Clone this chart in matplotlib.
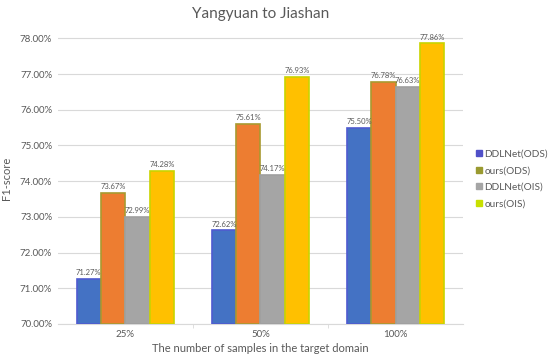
import matplotlib
matplotlib.use("Agg")
import matplotlib.pyplot as plt
from matplotlib.patches import Patch
import numpy as np

plt.rcParams['font.family'] = ['Lato', 'DejaVu Sans']

categories = ["25%", "50%", "100%"]
series_names = ["DDLNet(ODS)", "ours(ODS)", "DDLNet(OIS)", "ours(OIS)"]
ddlnet_ods = [71.27, 72.62, 75.50]
ours_ods = [73.67, 75.61, 76.78]
ddlnet_ois = [72.99, 74.17, 76.63]
ours_ois = [74.28, 76.93, 77.86]
yticks = [70, 71, 72, 73, 74, 75, 76, 77, 78]

series = [ddlnet_ods, ours_ods, ddlnet_ois, ours_ois]
faces = ["#4472C4", "#ED7D31", "#A5A5A5", "#FFC000"]
edges = ["#4f5bd0", "#a89a30", "#a0a0a0", "#c8d400"]
legend_cols = ["#5050c8", "#9a9a30", "#a5a5a5", "#c8e000"]

fig = plt.figure(figsize=(5.5, 3.61), dpi=100)
ax = fig.add_axes([0.105, 0.1025, 0.737, 0.806])

x = np.arange(len(categories))
w = 0.18
txt = "#595959"
for i, (vals, fc, ec) in enumerate(zip(series, faces, edges)):
    pos = x + (i - 1.5) * w
    ax.bar(pos, np.array(vals) - 70, width=w, bottom=70, color=fc,
           edgecolor=ec, linewidth=1.2, zorder=3)
    for p, v in zip(pos, vals):
        ax.text(p, v + 0.08, f"{v:.2f}%", ha="center", va="bottom",
                fontsize=5.5, color=txt, zorder=4)

ax.set_ylim(70, 78.15)
ax.set_xlim(-0.5, 2.5)
ax.set_yticks(yticks)
ax.set_yticklabels([f"{t:.2f}%" for t in yticks], fontsize=7, color=txt)
ax.set_xticks(x)
ax.set_xticklabels(categories, fontsize=7, color=txt)
ax.tick_params(axis='both', length=0, pad=4)
ax.set_xticks([0.5, 1.5], minor=True)
ax.tick_params(axis='x', which='minor', length=3, color="#d9d9d9")
ax.grid(axis='y', color="#d9d9d9", linewidth=0.8, zorder=0)
for s in ["top", "right", "left"]:
    ax.spines[s].set_visible(False)
ax.spines["bottom"].set_color("#d9d9d9")

ax.set_title("Yangyuan to Jiashan", fontsize=11, color=txt, pad=11)
ax.set_xlabel("The number of samples in the target domain", fontsize=8, color=txt, labelpad=3)
ax.set_ylabel("F1-score", fontsize=8, color=txt, labelpad=6)

handles = [Patch(facecolor=c, edgecolor=c) for c in legend_cols]
fig.legend(handles, series_names, loc="upper left", bbox_to_anchor=(0.866, 0.585),
           frameon=False, fontsize=7.2, labelcolor=txt, handlelength=0.55,
           handleheight=0.55, handletextpad=0.25, labelspacing=0.75, borderpad=0,
           borderaxespad=0)

fig.savefig("out.png", dpi=100)
